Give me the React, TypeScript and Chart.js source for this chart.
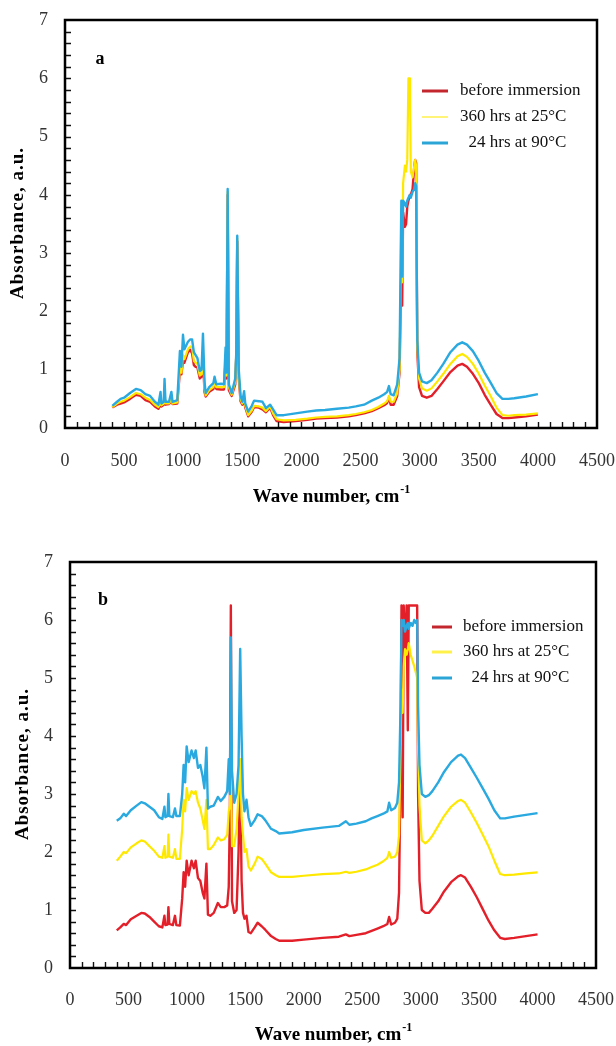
import { useEffect, useRef } from "react";
import { Chart, registerables } from "chart.js";

Chart.register(...registerables);

// ---------- data ----------
const seriesLabels = ["before immersion", "360 hrs at 25°C", "  24 hrs at 90°C"];
const seriesColors = ["#e3202a", "#ffe800", "#29a9df"];
const legendColors = ["#c4262e", "#fff04a", "#2aa5d6"];
const xTickValues = [0, 500, 1000, 1500, 2000, 2500, 3000, 3500, 4000, 4500];
const yTickValues = [0, 1, 2, 3, 4, 5, 6, 7];
const xAxisTitle = "Wave number, cm";
const xAxisTitleSup = "-1";
const yAxisTitle = "Absorbance, a.u.";

// panel a
const waveA = [
  400, 440, 470, 500, 550, 600, 640, 680, 720, 760,
  790, 808, 815, 835, 842, 850, 880, 900, 910, 950,
  972, 985, 998, 1010, 1040, 1060, 1075, 1090, 1105, 1120,
  1140, 1155, 1167, 1180, 1190, 1220, 1255, 1265, 1280, 1320,
  1345, 1358, 1366, 1376, 1386, 1410, 1440, 1448, 1457, 1470,
  1485, 1500, 1515, 1525, 1550, 1580, 1600, 1640, 1670, 1700,
  1735, 1760, 1790, 1850, 1950, 2050, 2125, 2200, 2300, 2400,
  2460, 2530, 2595, 2650, 2700, 2725, 2740, 2755, 2780, 2810,
  2830, 2845, 2852, 2860, 2875, 2885, 2895, 2905, 2918, 2925,
  2940, 2955, 2962, 2970, 2980, 2995, 3020, 3060, 3100, 3150,
  3200, 3260, 3320, 3360, 3400, 3450, 3500, 3550, 3600, 3650,
  3700, 3750, 3800, 3900, 4000,
];
const redA = [
  0.35, 0.40, 0.42, 0.44, 0.50, 0.57, 0.55, 0.48, 0.45, 0.37,
  0.33, 0.40, 0.37, 0.40, 0.55, 0.40, 0.41, 0.46, 0.41, 0.42,
  0.98, 0.92, 1.15, 1.12, 1.30, 1.34, 1.28, 1.08, 1.05, 1.04,
  0.85, 0.88, 1.20, 0.62, 0.54, 0.62, 0.67, 0.76, 0.67, 0.66,
  0.66, 1.15, 0.85, 4.00, 0.65, 0.55, 0.75, 1.20, 3.20, 0.85,
  0.46, 0.40, 0.48, 0.35, 0.20, 0.28, 0.36, 0.35, 0.32, 0.27,
  0.35, 0.22, 0.12, 0.10, 0.12, 0.14, 0.16, 0.17, 0.18, 0.20,
  0.22, 0.25, 0.29, 0.34, 0.39, 0.43, 0.52, 0.40, 0.40, 0.55,
  0.95, 2.70, 2.10, 3.70, 3.45, 3.50, 3.80, 3.90, 4.00, 4.00,
  4.10, 4.50, 4.60, 4.55, 1.30, 0.70, 0.55, 0.52, 0.55, 0.67,
  0.80, 0.96, 1.07, 1.10, 1.05, 0.93, 0.77, 0.57, 0.40, 0.24,
  0.17, 0.17, 0.18, 0.20, 0.23,
];
const yellowA = [
  0.36, 0.42, 0.45, 0.47, 0.53, 0.60, 0.58, 0.52, 0.48, 0.40,
  0.36, 0.45, 0.39, 0.42, 0.62, 0.42, 0.42, 0.50, 0.42, 0.44,
  1.05, 0.95, 1.25, 1.18, 1.35, 1.40, 1.38, 1.15, 1.12, 1.10,
  0.90, 0.92, 1.30, 0.68, 0.56, 0.65, 0.70, 0.80, 0.70, 0.70,
  0.70, 1.25, 0.90, 4.05, 0.70, 0.57, 0.80, 1.25, 3.25, 0.90,
  0.50, 0.42, 0.52, 0.38, 0.22, 0.30, 0.38, 0.37, 0.35, 0.29,
  0.37, 0.25, 0.15, 0.13, 0.14, 0.16, 0.18, 0.19, 0.20, 0.22,
  0.24, 0.27, 0.31, 0.36, 0.42, 0.46, 0.55, 0.45, 0.45, 0.60,
  1.00, 3.60, 2.50, 4.20, 4.50, 4.40, 4.60, 6.00, 6.00, 4.40,
  4.30, 4.50, 4.60, 4.50, 1.40, 0.85, 0.68, 0.64, 0.68, 0.80,
  0.93, 1.10, 1.23, 1.27, 1.22, 1.10, 0.93, 0.73, 0.55, 0.35,
  0.22, 0.21, 0.22, 0.23, 0.25,
];
const blueA = [
  0.38, 0.45, 0.50, 0.52, 0.60, 0.67, 0.65, 0.58, 0.55, 0.45,
  0.40, 0.62, 0.42, 0.45, 0.84, 0.45, 0.45, 0.62, 0.45, 0.48,
  1.32, 1.05, 1.60, 1.35, 1.48, 1.52, 1.52, 1.30, 1.25, 1.20,
  0.98, 1.00, 1.62, 0.80, 0.60, 0.70, 0.77, 0.88, 0.75, 0.76,
  0.75, 1.38, 0.95, 4.10, 0.75, 0.60, 0.85, 1.25, 3.30, 1.00,
  0.55, 0.45, 0.63, 0.42, 0.28, 0.38, 0.47, 0.46, 0.45, 0.34,
  0.40, 0.32, 0.22, 0.22, 0.25, 0.28, 0.30, 0.31, 0.33, 0.35,
  0.37, 0.40, 0.47, 0.52, 0.58, 0.62, 0.72, 0.58, 0.56, 0.75,
  1.20, 3.90, 2.60, 3.90, 3.85, 3.80, 3.90, 3.95, 4.00, 3.95,
  4.05, 4.10, 4.20, 4.15, 1.50, 0.95, 0.80, 0.77, 0.82, 0.95,
  1.10, 1.30, 1.43, 1.47, 1.43, 1.32, 1.15, 0.95, 0.78, 0.60,
  0.50, 0.50, 0.51, 0.54, 0.58,
];

// panel b
const waveB = [
  400, 430, 460, 480, 520, 570, 610, 640, 680, 720,
  760, 790, 808, 816, 835, 842, 850, 880, 898, 910,
  940, 960, 972, 985, 998, 1015, 1040, 1060, 1075, 1095,
  1115, 1135, 1150, 1167, 1180, 1200, 1230, 1265, 1290, 1320,
  1345, 1358, 1368, 1376, 1386, 1405, 1425, 1442, 1456, 1468,
  1480, 1493, 1510, 1527, 1547, 1580, 1605, 1640, 1670, 1720,
  1760, 1790, 1900, 2000, 2160, 2300, 2360, 2390, 2450, 2530,
  2580, 2630, 2680, 2715, 2730, 2748, 2780, 2800, 2815, 2828,
  2836, 2846, 2855, 2866, 2880, 2890, 2898, 2915, 2930, 2945,
  2958, 2970, 2978, 2990, 3010, 3040, 3070, 3100, 3150, 3200,
  3260, 3320, 3345, 3380, 3430, 3480, 3530, 3580, 3630, 3680,
  3720, 3800, 3900, 4000,
];
const redB = [
  0.65, 0.70, 0.76, 0.74, 0.84, 0.90, 0.95, 0.94, 0.88, 0.80,
  0.72, 0.70, 0.90, 0.74, 0.75, 1.05, 0.76, 0.74, 0.90, 0.74,
  0.73, 1.20, 1.65, 1.40, 1.85, 1.60, 1.85, 1.72, 1.85, 1.55,
  1.50, 1.30, 1.20, 1.80, 0.92, 0.90, 0.95, 1.12, 1.05, 1.05,
  1.08, 1.40, 2.70, 6.25, 1.15, 0.95, 1.00, 2.00, 3.50, 1.50,
  0.95, 0.85, 0.90, 0.62, 0.60, 0.70, 0.78, 0.72, 0.66, 0.55,
  0.50, 0.47, 0.47, 0.49, 0.52, 0.54, 0.58, 0.55, 0.57, 0.60,
  0.64, 0.68, 0.72, 0.76, 0.88, 0.75, 0.78, 0.85, 1.30, 3.50,
  6.25, 2.60, 6.25, 5.50, 6.25, 4.10, 6.25, 6.25, 6.25, 6.25,
  6.25, 6.25, 3.00, 1.50, 1.00, 0.95, 0.95, 1.02, 1.15, 1.32,
  1.48, 1.58, 1.60, 1.56, 1.40, 1.22, 1.02, 0.82, 0.65, 0.52,
  0.50, 0.52, 0.55, 0.58,
];
const yellowB = [
  1.85, 1.92, 2.00, 1.98, 2.08, 2.15, 2.20, 2.18, 2.10, 2.02,
  1.92, 1.90, 2.10, 1.90, 1.92, 2.30, 1.92, 1.90, 2.05, 1.88,
  1.88, 2.40, 2.90, 2.70, 3.10, 2.90, 3.05, 3.00, 3.05, 2.85,
  2.75, 2.55, 2.40, 2.90, 2.05, 2.05, 2.12, 2.25, 2.20, 2.22,
  2.30, 2.70, 2.80, 3.40, 2.10, 2.10, 2.40, 3.00, 3.60, 2.60,
  2.30, 2.00, 2.05, 1.75, 1.68, 1.80, 1.92, 1.88, 1.80, 1.65,
  1.60, 1.57, 1.57, 1.59, 1.62, 1.63, 1.66, 1.64, 1.66, 1.70,
  1.74, 1.78, 1.84, 1.90, 2.00, 1.90, 1.92, 2.00, 2.30, 3.80,
  4.80, 4.40, 5.20, 5.50, 5.40, 5.50, 5.60, 5.40, 5.30, 5.20,
  5.10, 5.00, 3.80, 2.80, 2.20, 2.15, 2.20, 2.28, 2.45, 2.62,
  2.78, 2.88, 2.90, 2.85, 2.68, 2.50, 2.30, 2.10, 1.85, 1.62,
  1.60, 1.61, 1.63, 1.65,
];
const blueB = [
  2.54, 2.58, 2.66, 2.62, 2.72, 2.80, 2.86, 2.84, 2.78, 2.72,
  2.60, 2.57, 2.78, 2.60, 2.62, 3.00, 2.62, 2.60, 2.75, 2.62,
  2.62, 3.00, 3.50, 3.20, 3.82, 3.55, 3.75, 3.62, 3.75, 3.45,
  3.50, 3.30, 3.10, 3.80, 2.75, 2.78, 2.80, 2.95, 2.88, 2.95,
  3.05, 3.60, 3.00, 5.70, 3.40, 2.85, 3.00, 3.50, 5.50, 4.00,
  3.00, 2.70, 2.90, 2.60, 2.45, 2.55, 2.65, 2.62, 2.55, 2.40,
  2.36, 2.32, 2.34, 2.38, 2.42, 2.45, 2.53, 2.47, 2.49, 2.53,
  2.58, 2.62, 2.66, 2.70, 2.85, 2.72, 2.76, 2.85, 3.20, 4.50,
  6.00, 5.90, 6.00, 5.80, 5.90, 5.95, 5.85, 5.95, 5.90, 6.00,
  5.95, 6.00, 4.50, 3.50, 3.00, 2.95, 2.98, 3.05, 3.20, 3.38,
  3.55, 3.66, 3.68, 3.62, 3.45, 3.28, 3.10, 2.92, 2.72, 2.58,
  2.58, 2.61, 2.64, 2.67,
];

// ---------- panel ----------
type Layout = {
  top: number;
  height: number;
  left: number;
  right: number;
  areaTop: number;
  areaBottom: number;
  letter: string;
  letterPos: [number, number];
  xTitleY: number;
  yTitlePos: [number, number];
  legendRows: number[];
  legendLine: [number, number];
  legendText: number;
  legendWidths: number[];
  xLabelPad: number;
};

function Panel({ wave, series, layout }: { wave: number[]; series: number[][]; layout: Layout }) {
  const ref = useRef<HTMLCanvasElement | null>(null);

  useEffect(() => {
    const canvas = ref.current;
    if (!canvas) return;
    const W = 616;
    const L = layout;

    const decor = {
      id: "decor" + L.letter,
      afterDatasetsDraw(chart: any) {
        const ctx = chart.ctx as CanvasRenderingContext2D;
        const a = chart.chartArea;
        const xs = chart.scales.x;
        const ys = chart.scales.y;
        ctx.save();
        // minor inward ticks
        ctx.strokeStyle = "#111";
        ctx.lineWidth = 1.4;
        ctx.beginPath();
        for (let i = 1; i < 45; i++) {
          const px = Math.round(xs.getPixelForValue(i * 100)) + 0.5;
          ctx.moveTo(px, a.bottom);
          ctx.lineTo(px, a.bottom - 6);
        }
        for (let i = 1; i < 35; i++) {
          const py = Math.round(ys.getPixelForValue(i * 0.2)) + 0.5;
          ctx.moveTo(a.left, py);
          ctx.lineTo(a.left + 6, py);
        }
        ctx.stroke();
        // frame
        ctx.lineWidth = 2.5;
        ctx.strokeStyle = "#000";
        ctx.strokeRect(a.left, a.top, a.right - a.left, a.bottom - a.top);

        // panel letter
        ctx.fillStyle = "#000";
        ctx.font = "bold 18px 'Liberation Serif'";
        ctx.textAlign = "center";
        ctx.textBaseline = "middle";
        ctx.fillText(L.letter, L.letterPos[0], L.letterPos[1]);

        // x title with superscript
        ctx.font = "bold 19px 'Liberation Serif'";
        const w1 = ctx.measureText(xAxisTitle).width;
        ctx.font = "bold 12px 'Liberation Serif'";
        const w2 = ctx.measureText(xAxisTitleSup).width;
        const cx = (a.left + a.right) / 2;
        const sx = cx - (w1 + w2) / 2;
        ctx.textAlign = "left";
        ctx.font = "bold 19px 'Liberation Serif'";
        ctx.fillText(xAxisTitle, sx, L.xTitleY);
        ctx.font = "bold 12px 'Liberation Serif'";
        ctx.fillText(xAxisTitleSup, sx + w1 + 1, L.xTitleY - 7);

        // y title
        ctx.save();
        ctx.translate(L.yTitlePos[0], L.yTitlePos[1]);
        ctx.rotate(-Math.PI / 2);
        ctx.font = "bold 19px 'Liberation Serif'";
        (ctx as any).letterSpacing = "1px";
        ctx.textAlign = "center";
        ctx.fillText(yAxisTitle, 0, 0);
        ctx.restore();

        // legend
        const ds = chart.data.datasets;
        ctx.font = "17px 'Liberation Serif'";
        ctx.textAlign = "left";
        ctx.textBaseline = "middle";
        ds.forEach((d: any, i: number) => {
          const y = L.legendRows[i];
          ctx.strokeStyle = legendColors[i];
          ctx.lineWidth = L.legendWidths[i];
          ctx.beginPath();
          ctx.moveTo(L.legendLine[0], y);
          ctx.lineTo(L.legendLine[1], y);
          ctx.stroke();
          ctx.fillStyle = "#111";
          ctx.fillText(d.label, L.legendText, y);
        });
        ctx.restore();
      },
    };

    const widths = [2.4, 2.2, 2.4];
    const orders = [2, 1, 0];
    const chart = new Chart(canvas, {
      type: "line",
      data: {
        datasets: series.map((vals, i) => ({
          label: seriesLabels[i],
          data: wave.map((w, k) => ({ x: w, y: vals[k] })),
          borderColor: seriesColors[i],
          backgroundColor: seriesColors[i],
          borderWidth: widths[i],
          pointRadius: 0,
          tension: 0,
          borderJoinStyle: "round" as const,
          order: orders[i],
          fill: false,
        })),
      },
      options: {
        animation: false,
        responsive: false,
        maintainAspectRatio: false,
        events: [],
        layout: { padding: { top: L.areaTop, right: W - L.right, left: 0, bottom: 0 } },
        plugins: { legend: { display: false }, tooltip: { enabled: false } },
        scales: {
          x: {
            type: "linear",
            min: 0,
            max: 4500,
            afterBuildTicks: (s: any) => {
              s.ticks = xTickValues.map((v) => ({ value: v }));
            },
            afterFit: (s: any) => {
              s.height = L.height - L.areaBottom;
              s.paddingLeft = 0;
              s.paddingRight = 0;
            },
            grid: { display: false, drawTicks: false },
            border: { display: false },
            ticks: {
              padding: L.xLabelPad,
              maxRotation: 0,
              autoSkip: false,
              color: "#333",
              font: { family: "'Liberation Serif'", size: 18 },
              callback: (v: any) => String(v),
            },
          },
          y: {
            type: "linear",
            min: 0,
            max: 7,
            afterBuildTicks: (s: any) => {
              s.ticks = yTickValues.map((v) => ({ value: v }));
            },
            afterFit: (s: any) => {
              s.width = L.left;
              s.paddingTop = 0;
              s.paddingBottom = 0;
            },
            grid: { display: false, drawTicks: false },
            border: { display: false },
            ticks: {
              padding: 17,
              color: "#333",
              font: { family: "'Liberation Serif'", size: 18 },
              callback: (v: any) => String(v),
            },
          },
        },
      },
      plugins: [decor],
    });
    return () => chart.destroy();
  }, [wave, series, layout]);

  return (
    <canvas
      ref={ref}
      width={616}
      height={layout.height}
      style={{ position: "absolute", left: 0, top: layout.top, width: 616, height: layout.height, display: "block" }}
    />
  );
}

const layoutA: Layout = {
  top: 0,
  height: 520,
  left: 65,
  right: 597,
  areaTop: 20,
  areaBottom: 428,
  letter: "a",
  letterPos: [100, 59],
  xTitleY: 497,
  yTitlePos: [18, 223],
  legendRows: [91, 117, 143],
  legendLine: [422, 448],
  legendText: 460,
  legendWidths: [3, 1.5, 3],
  xLabelPad: 22,
};

const layoutB: Layout = {
  top: 520,
  height: 526,
  left: 70,
  right: 596,
  areaTop: 42,
  areaBottom: 448,
  letter: "b",
  letterPos: [103, 80],
  xTitleY: 515,
  yTitlePos: [23, 244],
  legendRows: [107, 132, 158],
  legendLine: [432, 452],
  legendText: 463,
  legendWidths: [3, 3, 3],
  xLabelPad: 21,
};

const seriesA = [redA, yellowA, blueA];
const seriesB = [redB, yellowB, blueB];

export default function App() {
  return (
    <div style={{ position: "absolute", left: 0, top: 0, width: 616, height: 1046, background: "#fff" }}>
      <Panel wave={waveA} series={seriesA} layout={layoutA} />
      <Panel wave={waveB} series={seriesB} layout={layoutB} />
    </div>
  );
}
